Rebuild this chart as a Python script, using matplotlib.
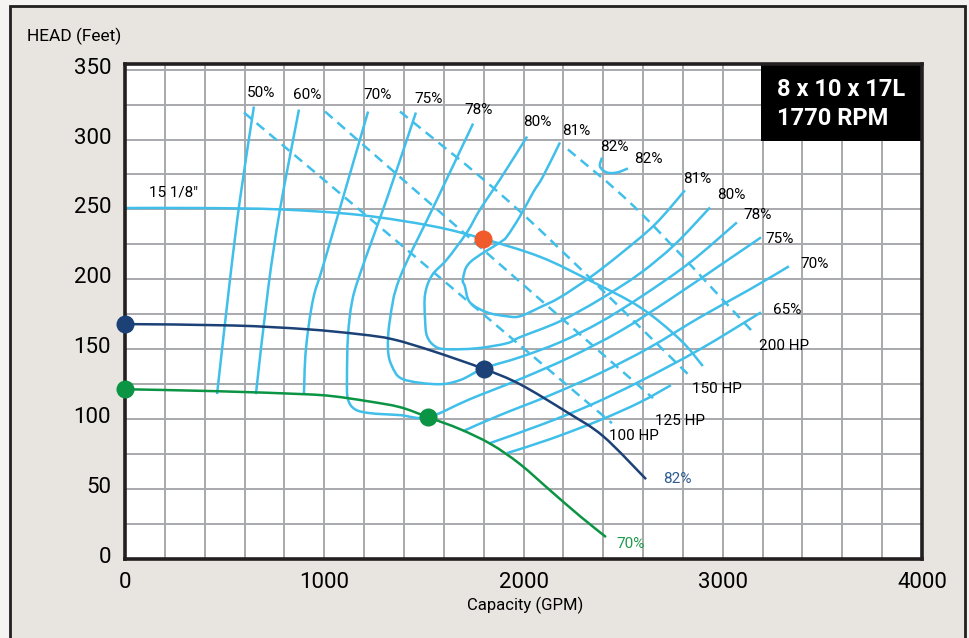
import matplotlib.pyplot as plt
from matplotlib.patches import Rectangle, PathPatch
from matplotlib.path import Path
from matplotlib.ticker import MultipleLocator
from matplotlib.transforms import ScaledTranslation

plt.rcParams['font.family'] = ['Roboto', 'DejaVu Sans']

LIGHT = '#3fbfea'
NAVY = '#1b4176'
GREEN = '#0b9444'
ORANGE = '#f15a2b'
GRID = '#a7a9ac'
INK = '#231f20'

# 15 1/8" impeller, 1770 RPM
full_q = [0, 375, 780, 1180, 1545, 1797, 2085, 2335, 2585, 2785, 2900]
full_h = [251, 251, 250, 246, 238, 229, 216, 199, 180, 157, 138]

# trimmed impeller curves
navy_q = [0, 542, 913, 1179, 1345, 1546, 1800, 1982, 2218, 2399, 2615]
navy_h = [168, 167, 164.3, 160.7, 157.1, 148.6, 136, 125, 105, 87.9, 57.1]
green_q = [0, 462, 893, 1044, 1215, 1380, 1521, 1681, 1837, 1982, 2143, 2289, 2414]
green_h = [121.4, 120, 117.9, 116.4, 112.9, 108.6, 101.4, 92.9, 82.1, 67.9, 47.9, 30, 15.7]

# marked points
bep_q, bep_h = [1797], [229]
navy_pts_q, navy_pts_h = [0, 1800], [168, 136]
green_pts_q, green_pts_h = [0, 1521], [121.4, 101.4]

# efficiency contours, left side (labelled at the top)
e50_q = [647, 577, 527, 462]
e50_h = [323.6, 257.1, 200.0, 117.9]
e60_q = [873, 778, 718, 657]
e60_h = [321.4, 250.0, 192.9, 117.9]
e70_q = [1220, 1004, 944, 908, 898]
e70_h = [320.0, 214.3, 185.7, 150.0, 117.9]

# closed-bottom contours, run from top label round to the right-hand label
e75_q = [1460, 1320, 1179, 1139, 1119, 1114, 1119, 1154, 1230, 1380, 1521,
         1731, 1982, 2233, 2484, 2735, 2986, 3192]
e75_h = [319.3, 260.0, 203.6, 183.6, 159.3, 128.6, 114.3, 107.1, 104.3, 102.9, 101.4,
         114.3, 128.6, 144.3, 162.9, 185.7, 210.0, 230.0]
e78_q = [1747, 1566, 1380, 1330, 1320, 1340, 1395, 1566, 1681, 1802,
         1982, 2183, 2384, 2585, 2836, 3071]
e78_h = [311.4, 257.1, 201.4, 171.4, 150.0, 137.9, 128.6, 125.0, 127.9, 136.4,
         144.3, 155.0, 169.3, 187.1, 212.1, 240.7]
e80_q = [2018, 1882, 1782, 1716, 1616, 1541, 1506, 1506, 1516, 1556, 1616, 1767, 1917, 1982,
         2183, 2384, 2585, 2760, 2936]
e80_h = [302.1, 271.4, 250.0, 233.6, 214.3, 202.9, 189.3, 171.4, 159.3, 152.1, 150.0, 150.7, 154.3, 158.6,
         170.0, 185.7, 204.3, 225.0, 251.4]
e81_q = [2183, 2098, 2048, 1982, 1917, 1882, 1731, 1696, 1706, 1731, 1817, 1917, 1982,
         2083, 2183, 2334, 2484, 2660, 2810]
e81_h = [297.9, 273.6, 262.1, 245.0, 230.7, 226.4, 212.1, 200.0, 195.0, 183.6, 176.4, 173.6, 173.6,
         180.0, 187.1, 201.4, 217.9, 239.3, 263.6]
e82_q = [2394, 2384, 2419, 2469, 2524]
e82_h = [287.1, 280.7, 276.4, 276.4, 279.3]

# open contours below the 70% impeller curve
e70r_q = [1696, 1882, 2133, 2384, 2635, 2886, 3137, 3332]
e70r_h = [91.4, 102.9, 117.1, 132.9, 151.4, 172.9, 192.9, 209.3]
e65_q = [1832, 2083, 2334, 2585, 2886, 3192]
e65_h = [82.9, 95.7, 110.0, 127.1, 150.0, 176.4]
e60r_q = [1917, 2133, 2384, 2585, 2740]
e60r_h = [75.7, 85.7, 99.3, 112.1, 124.3]

# horsepower lines
hp100_q, hp100_h = [597, 1591, 2444], [319.3, 200.0, 97.1]
hp125_q, hp125_h = [1004, 2650], [320.0, 115.0]
hp150_q, hp150_h = [1380, 1982, 2826], [320.0, 248.6, 132.1]
hp200_q, hp200_h = [2223, 2585, 3157], [292.9, 247.9, 161.4]


def smooth_path(q, h):
    # cubic Bezier pieces through every point (Catmull-Rom tangents)
    pts = list(zip(q, h))
    n = len(pts)
    verts, codes = [pts[0]], [Path.MOVETO]
    for i in range(n - 1):
        p0 = pts[max(i - 1, 0)]
        p1, p2 = pts[i], pts[i + 1]
        p3 = pts[min(i + 2, n - 1)]
        c1 = (p1[0] + (p2[0] - p0[0]) / 6, p1[1] + (p2[1] - p0[1]) / 6)
        c2 = (p2[0] - (p3[0] - p1[0]) / 6, p2[1] - (p3[1] - p1[1]) / 6)
        verts += [c1, c2, p2]
        codes += [Path.CURVE4] * 3
    return Path(verts, codes)


fig = plt.figure(figsize=(9.69, 6.38), dpi=100, facecolor='#f5f4f2')
panel = Rectangle((10 / 969, -0.05), 955 / 969, 632 / 638 + 0.05,
                  transform=fig.transFigure, facecolor='#e8e4e0',
                  edgecolor=INK, lw=2, zorder=-5)
fig.add_artist(panel)

ax = fig.add_axes([125 / 969, 79 / 638, 797 / 969, 495 / 638])
ax.set_facecolor('white')
ax.set_xlim(0, 4000)
ax.set_ylim(0, 354)
ax.xaxis.set_major_locator(MultipleLocator(1000))
ax.xaxis.set_minor_locator(MultipleLocator(200))
ax.yaxis.set_major_locator(MultipleLocator(50))
ax.yaxis.set_minor_locator(MultipleLocator(25))
ax.grid(which='both', color=GRID, lw=1.4, zorder=0)
ax.set_axisbelow(True)
ax.tick_params(which='both', length=0, labelsize=16, colors='black')
ax.tick_params(axis='x', pad=9)
ax.tick_params(axis='y', pad=10)
for lab in ax.get_yticklabels():
    lab.set_transform(lab.get_transform() + ScaledTranslation(0, 0.04, fig.dpi_scale_trans))
for s in ax.spines.values():
    s.set_color(INK)
    s.set_linewidth(2.6)
    s.set_zorder(10)


def curve(q, h, color=LIGHT, ls='-', z=3):
    ax.add_patch(PathPatch(smooth_path(q, h), fill=False, edgecolor=color,
                           lw=1.8, ls=ls, capstyle='butt', zorder=z))


for q, h in [(e50_q, e50_h), (e60_q, e60_h), (e70_q, e70_h), (e75_q, e75_h),
             (e78_q, e78_h), (e80_q, e80_h), (e81_q, e81_h), (e82_q, e82_h),
             (e70r_q, e70r_h), (e65_q, e65_h), (e60r_q, e60r_h)]:
    curve(q, h)

for q, h in [(hp100_q, hp100_h), (hp125_q, hp125_h), (hp150_q, hp150_h), (hp200_q, hp200_h)]:
    curve(q, h, ls=(0, (4, 2.6)))

curve(full_q, full_h, z=4)
curve(navy_q, navy_h, color=NAVY, z=5)
curve(green_q, green_h, color=GREEN, z=5)

ax.plot(navy_pts_q, navy_pts_h, 'o', color=NAVY, ms=13, mec='none', clip_on=False, zorder=12)
ax.plot(green_pts_q, green_pts_h, 'o', color=GREEN, ms=13, mec='none', clip_on=False, zorder=12)
ax.plot(bep_q, bep_h, 'o', color=ORANGE, ms=13, mec='none', zorder=12)


def tag(text, q, h, dx, dy, color='black', size=11):
    ax.annotate(text, (q, h), xytext=(dx * 0.72, -dy * 0.72), textcoords='offset points',
                ha='center', va='center', fontsize=size, color=color, zorder=8)


# labels at the top of the contours
tag('50%', e50_q[0], e50_h[0], 7, -14)
tag('60%', e60_q[0], e60_h[0], 8, -15)
tag('70%', e70_q[0], e70_h[0], 9, -17)
tag('75%', e75_q[0], e75_h[0], 13, -14)
tag('78%', e78_q[0], e78_h[0], 5, -14)
tag('80%', e80_q[0], e80_h[0], 10, -15)
tag('81%', e81_q[0], e81_h[0], 16, -11)
tag('82%', e82_q[0], e82_h[0], 12, -11)
tag('82%', e82_q[-1], e82_h[-1], 20, -9)
# labels at the right-hand ends
tag('81%', e81_q[-1], e81_h[-1], 12, -11)
tag('80%', e80_q[-1], e80_h[-1], 21, -12)
tag('78%', e78_q[-1], e78_h[-1], 21, -7)
tag('75%', e75_q[-1], e75_h[-1], 19, 2)
tag('70%', e70r_q[-1], e70r_h[-1], 26, -2)
tag('65%', e65_q[-1], e65_h[-1], 26, -2)
tag('100 HP', hp100_q[-1], hp100_h[-1], 22, 13)
tag('125 HP', hp125_q[-1], hp125_h[-1], 27, 23)
tag('150 HP', hp150_q[-1], hp150_h[-1], 29, 15)
tag('200 HP', hp200_q[-1], hp200_h[-1], 30, 13)
tag('82%', navy_q[-1], navy_h[-1], 31, 0, color='#2d5b92')
tag('70%', green_q[-1], green_h[-1], 25, 7, color='#1f9a4c')
ax.text(241, 262, '15 1/8\u2033', fontsize=11, ha='center', va='center', zorder=8)

# model / speed box
ax.add_patch(Rectangle((0.798, 0.844), 0.202, 0.156, transform=ax.transAxes,
                       facecolor='black', edgecolor='none', zorder=9))
ax.text(0.818, 0.948, '8 x 10 x 17L', transform=ax.transAxes, color='white',
        fontsize=17, fontweight='bold', ha='left', va='center', zorder=11)
ax.text(0.818, 0.889, '1770 RPM', transform=ax.transAxes, color='white',
        fontsize=17, fontweight='bold', ha='left', va='center', zorder=11)

fig.text(27 / 969, 1 - 36 / 638, 'HEAD (Feet)', fontsize=12.5, ha='left', va='center')
fig.text(525 / 969, 1 - 605 / 638, 'Capacity (GPM)', fontsize=12, ha='center', va='center')

fig.savefig('out.png', dpi=100, facecolor=fig.get_facecolor())
